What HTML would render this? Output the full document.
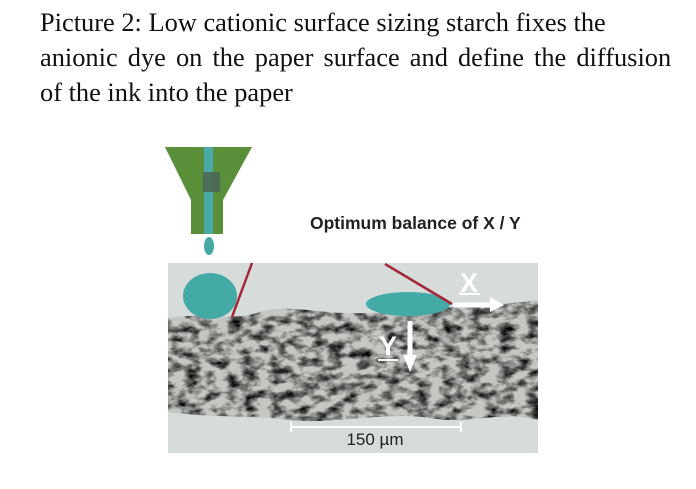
<!DOCTYPE html>
<html><head><meta charset="utf-8"><style>
body{margin:0;background:#fff;width:696px;height:489px;overflow:hidden;position:relative}
.t{position:absolute;left:40px;top:5px;font:26.4px/35px "Liberation Serif",serif;color:#111;white-space:nowrap}
.w{word-spacing:3.5px}
</style></head><body>
<div class="t">Picture 2: Low cationic surface sizing starch fixes the<br><span class="w">anionic dye on the paper surface and define the diffusion</span><br>of the ink into the paper</div>
<svg width="696" height="489" style="position:absolute;left:0;top:0">
<defs>
<filter id="n" x="0" y="0" width="1" height="1">
<feTurbulence type="fractalNoise" baseFrequency="0.07 0.12" numOctaves="3" seed="4"/>
<feColorMatrix type="matrix" values="0 0 0 0 0  0 0 0 0 0  0 0 0 0 0  -2.2 0 0 0 1.35"/>
</filter>
<clipPath id="band"><path d="M168 318 C200 312,230 322,260 312 S330 318,380 312 S460 310,538 300 L538 420 C500 410,470 425,430 418 S330 425,290 420 S210 418,168 412Z"/></clipPath>
</defs>
<rect x="168" y="263" width="370" height="190" fill="#d6dcd9"/>
<g clip-path="url(#band)">
<rect x="168" y="295" width="370" height="135" fill="#c4c7c2"/>
<rect x="168" y="295" width="370" height="135" filter="url(#n)" fill="#1e1e1c"/>
</g>
<polygon points="165,147 252,147 223,200 223,234 191,234 191,200" fill="#5a8f3a"/>
<rect x="204" y="147" width="9" height="87" fill="#4aa9a8"/>
<rect x="203" y="172" width="17" height="20" fill="#4e6655" opacity=".9"/>
<ellipse cx="209" cy="246" rx="5" ry="9" fill="#44aaa5"/>
<ellipse cx="210" cy="296" rx="27" ry="23" fill="#44aaa5"/>
<line x1="252" y1="263" x2="232" y2="317" stroke="#a3283a" stroke-width="2.5"/>
<ellipse cx="408" cy="304" rx="42" ry="12" fill="#44aaa5"/>
<line x1="385" y1="264" x2="452" y2="304" stroke="#a3283a" stroke-width="2.5"/>
<line x1="453" y1="305" x2="493" y2="305" stroke="#fff" stroke-width="5"/>
<polygon points="490,297 504,305 490,312" fill="#fff"/>
<text x="469" y="292" text-anchor="middle" font-family="Liberation Sans" font-weight="bold" font-size="27" fill="#fff">X</text>
<line x1="459" y1="294" x2="480" y2="294" stroke="#fff" stroke-width="2"/>
<line x1="410" y1="321" x2="410" y2="360" stroke="#fff" stroke-width="5"/>
<polygon points="403,355 410,372 417,355" fill="#fff"/>
<text x="388" y="355" text-anchor="middle" font-family="Liberation Sans" font-weight="bold" font-size="27" fill="#fff">Y</text>
<line x1="378" y1="360" x2="398" y2="360" stroke="#fff" stroke-width="2"/>
<line x1="290" y1="427" x2="461" y2="427" stroke="#fff" stroke-width="2"/>
<line x1="291" y1="422" x2="291" y2="432" stroke="#fff" stroke-width="2"/>
<line x1="461" y1="422" x2="461" y2="432" stroke="#fff" stroke-width="2"/>
<text x="375" y="445" text-anchor="middle" font-family="Liberation Sans" font-size="17" fill="#222">150 µm</text>
<text x="310" y="229" font-family="Liberation Sans" font-weight="bold" font-size="17.5" fill="#222">Optimum balance of X / Y</text>
</svg>
</body></html>
